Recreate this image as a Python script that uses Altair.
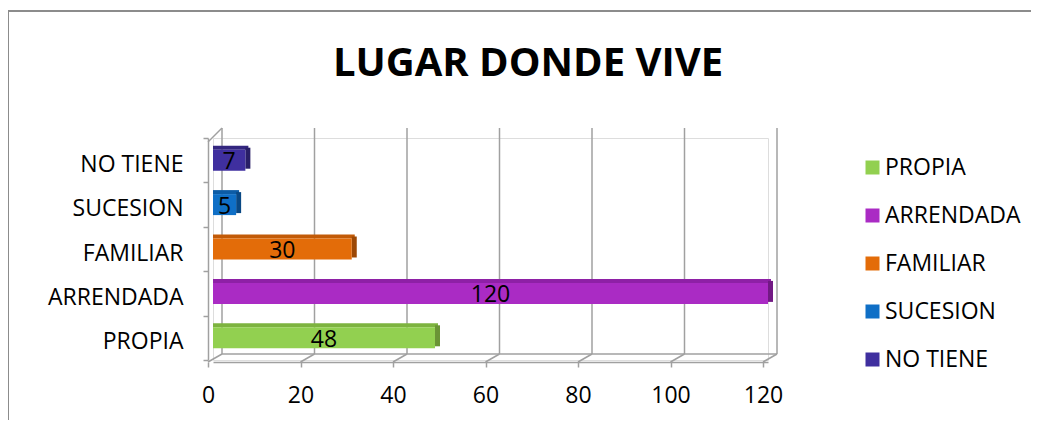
import altair as alt
import pandas as pd

title_text = "LUGAR DONDE VIVE"
categories = ["PROPIA", "ARRENDADA", "FAMILIAR", "SUCESION", "NO TIENE"]
values = [48, 120, 30, 5, 7]
colors = ["#92D050", "#AA2BC4", "#E36C09", "#0F6FC6", "#3F2F9F"]
top_colors = ["#7DB33F", "#8E20A6", "#C25A07", "#0C5CA6", "#33267F"]
side_colors = ["#6A9436", "#721984", "#9C4806", "#094884", "#281E66"]
x_ticks = [0, 20, 40, 60, 80, 100, 120]

df = pd.DataFrame({"cat": categories, "value": values})
ticks_df = pd.DataFrame({"t": x_ticks})
title_df = pd.DataFrame({"title": [title_text]})

FONT = "Open Sans"
FS = 23
y_order = list(reversed(categories))

x_scale = alt.Scale(domain=[0, 120], nice=False, zero=True)
y_scale = alt.Scale(domain=y_order, paddingInner=0, paddingOuter=0)

color_main = alt.Color("cat:N", scale=alt.Scale(domain=categories, range=colors),
                       sort=categories,
                       legend=alt.Legend(title=None, orient="none", legendX=648, legendY=18,
                                         symbolType="square", symbolSize=196,
                                         symbolStrokeWidth=0,
                                         labelFont=FONT, labelFontSize=FS,
                                         labelColor="#000000", labelOffset=1,
                                         rowPadding=24, padding=0))

base = alt.Chart(df)
GRID = "#a0a0a0"

# border of the chart area
border = alt.Chart(ticks_df).mark_rect(fill=None, stroke="#8c8c8c", strokeWidth=2).encode(
    x=alt.value(-205), x2=alt.value(900), y=alt.value(-127), y2=alt.value(400)
).transform_filter("datum.t == 0")

title = alt.Chart(title_df).mark_text(
    font=FONT, fontSize=40, fontWeight="bold", color="#000000",
    align="center", baseline="middle"
).encode(x=alt.value(315), y=alt.value(-74), text="title:N")

# back grid lines
grid = alt.Chart(ticks_df).mark_rule(color=GRID, strokeWidth=1.5, xOffset=9).encode(
    x=alt.X("t:Q", scale=x_scale),
    y=alt.value(-10), y2=alt.value(216)
)
# floor diagonals
diag = alt.Chart(ticks_df).mark_rule(color=GRID, strokeWidth=1.5, xOffset=9, x2Offset=-5).encode(
    x=alt.X("t:Q", scale=x_scale), x2="t:Q",
    y=alt.value(216), y2=alt.value(224)
)
# back floor line
back_floor = alt.Chart(ticks_df).mark_rule(color=GRID, strokeWidth=1.5, xOffset=9, x2Offset=9).encode(
    x=alt.X("min(t):Q", scale=x_scale), x2="max(t):Q",
    y=alt.value(216)
)
# left wall top diagonal
wall_diag = alt.Chart(ticks_df).mark_rule(color=GRID, strokeWidth=1.5, xOffset=-5, x2Offset=9).encode(
    x=alt.X("t:Q", scale=x_scale), x2="t:Q",
    y=alt.value(4), y2=alt.value(-10)
).transform_filter("datum.t == 0")

bars = base.mark_bar(size=21).encode(
    x=alt.X("value:Q", scale=x_scale, stack=None,
            axis=alt.Axis(values=x_ticks, title=None, grid=False, offset=2,
                          tickOffset=-5, tickSize=5, labelPadding=17,
                          labelFlush=False,
                          labelFont=FONT, labelFontSize=FS, labelColor="#000000",
                          domainColor=GRID, tickColor=GRID,
                          domainWidth=1.5, tickWidth=1.5)),
    y=alt.Y("cat:N", scale=y_scale, sort=y_order,
            axis=alt.Axis(title=None, offset=5, tickBand="extent", tickOffset=4,
                          labelOffset=4,
                          tickSize=5, labelPadding=20, labelFont=FONT,
                          labelFontSize=FS, labelColor="#000000",
                          domainColor=GRID, tickColor=GRID,
                          domainWidth=1.5, tickWidth=1.5)),
    color=color_main,
)

top_face = base.mark_bar(size=4, yOffset=-12.5, xOffset=3).encode(
    x=alt.X("value:Q", scale=x_scale, stack=None),
    y=alt.Y("cat:N", scale=y_scale, sort=y_order),
    color=alt.Color("cat:N", scale=alt.Scale(domain=categories, range=top_colors), legend=None),
)

side_face = base.mark_bar(size=21, yOffset=-2, x2Offset=5).encode(
    x=alt.X("value:Q", scale=x_scale, stack=None), x2="value:Q",
    y=alt.Y("cat:N", scale=y_scale, sort=y_order),
    color=alt.Color("cat:N", scale=alt.Scale(domain=categories, range=side_colors), legend=None),
)

labels = base.transform_calculate(mid="datum.value / 2").mark_text(
    font=FONT, fontSize=FS, color="#000000", baseline="middle", align="center", dy=2
).encode(
    x=alt.X("mid:Q", scale=x_scale),
    y=alt.Y("cat:N", scale=y_scale, sort=y_order),
    text="value:Q",
)

chart = alt.layer(border, title, grid, diag, back_floor, wall_diag, top_face, side_face, bars, labels).resolve_scale(
    color="independent"
).properties(
    width=555, height=222,
    autosize=alt.AutoSizeParams(type="none"),
    padding={"left": 205, "top": 130, "right": 263, "bottom": 60},
).configure_view(stroke=None).configure(background="white")

chart.save("out.html", embed_options={"renderer": "svg", "actions": False})
